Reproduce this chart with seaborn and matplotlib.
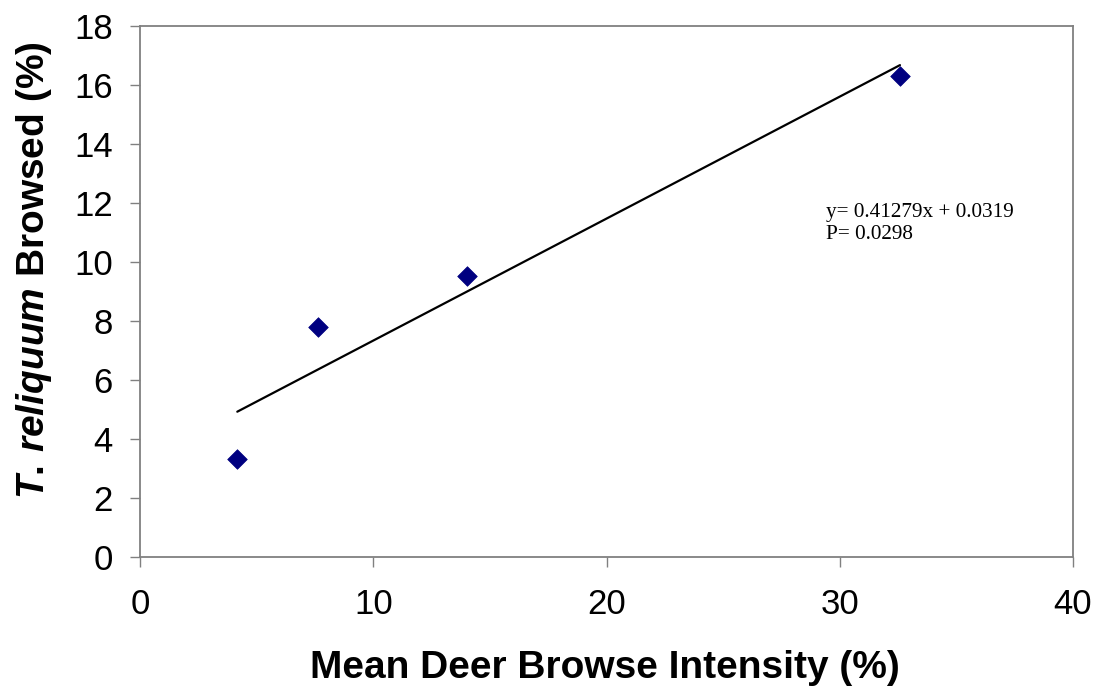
import matplotlib
matplotlib.use("Agg")
import matplotlib.pyplot as plt
import seaborn as sns
import pandas as pd

# Data
browse_intensity = [4.17, 7.64, 14.03, 32.58]
reliquum_browsed = [3.31, 7.80, 9.54, 16.31]
x_ticks = [0, 10, 20, 30, 40]
y_ticks = [0, 2, 4, 6, 8, 10, 12, 14, 16, 18]
equation_text = "y= 0.41279x + 0.0319\nP= 0.0298"

df = pd.DataFrame({"x": browse_intensity, "y": reliquum_browsed})

sns.set_theme(style="white")
plt.rcParams["font.family"] = ["Liberation Sans", "DejaVu Sans"]
plt.rcParams["mathtext.fontset"] = "custom"
plt.rcParams["mathtext.rm"] = "Liberation Sans:bold"
plt.rcParams["mathtext.bfit"] = "Liberation Sans:italic:bold"
plt.rcParams["mathtext.it"] = "Liberation Sans:italic:bold"

fig = plt.figure(figsize=(11.06, 7.0), dpi=100)
ax = fig.add_axes([0.1266, 0.2043, 0.8436, 0.7586])

sns.regplot(data=df, x="x", y="y", ax=ax, ci=None, truncate=True,
            marker="D",
            scatter_kws={"s": 100, "color": "#000080", "edgecolor": "#000080",
                         "linewidths": 0.5, "alpha": 1.0, "zorder": 3},
            line_kws={"color": "black", "linewidth": 1.6, "zorder": 2})

ax.set_xlim(0, 40)
ax.set_ylim(0, 18)
ax.set_xticks(x_ticks)
ax.set_yticks(y_ticks)
ax.set_xticklabels([str(t) for t in x_ticks])
ax.set_yticklabels([str(t) for t in y_ticks])

for sp in ax.spines.values():
    sp.set_visible(True)
    sp.set_color("#808080")
    sp.set_linewidth(1.3)

ax.tick_params(axis="both", which="major", direction="out", length=7.5,
               width=1.0, color="#808080", labelsize=25, labelcolor="black")
ax.tick_params(axis="x", pad=15)
ax.tick_params(axis="y", pad=12)
ax.tick_params(top=False, right=False, bottom=True, left=True)

ax.set_xlabel("Mean Deer Browse Intensity (%)", fontsize=28, fontweight="bold",
              color="black")
ax.set_ylabel(r"$\mathit{T.\,reliquum}$ Browsed (%)", fontsize=28,
              fontweight="bold", color="black")
ax.xaxis.set_label_coords(0.498, -0.175)
ax.yaxis.set_label_coords(-0.092, 0.54)

ax.text(29.4, 12.0, equation_text, fontsize=15.3, family="Liberation Serif",
        color="black", va="top", ha="left", linespacing=1.2)

fig.savefig("out.png", dpi=100, facecolor="white")
